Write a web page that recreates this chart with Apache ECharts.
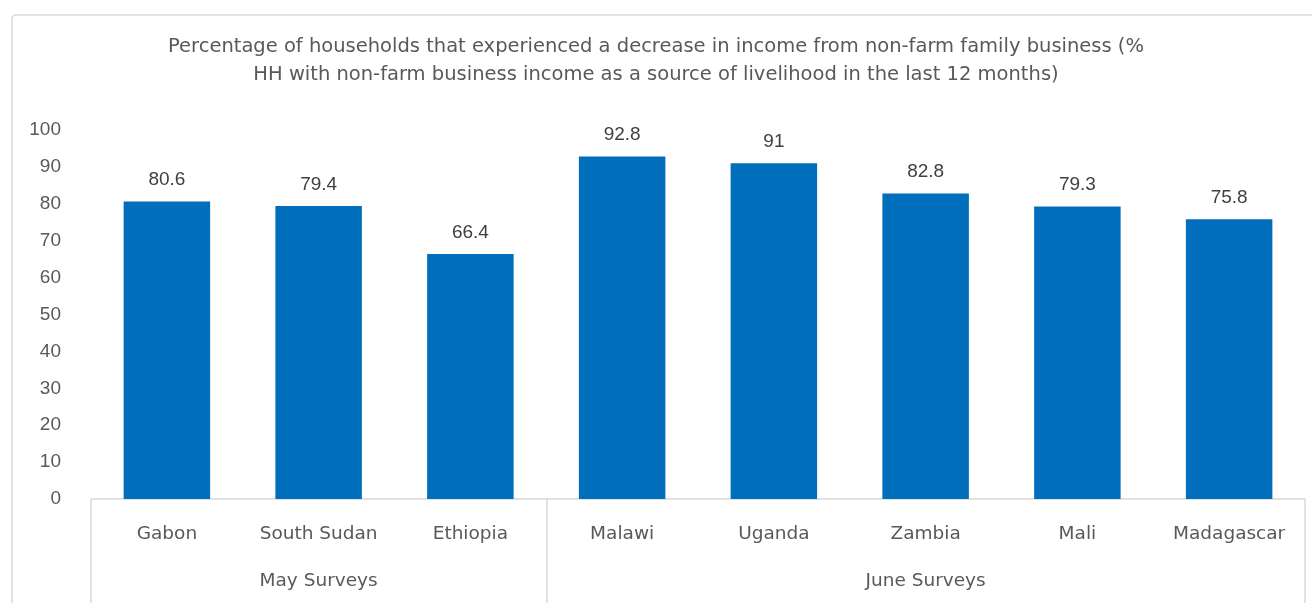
<!DOCTYPE html>
<html>
<head>
<meta charset="utf-8">
<script src="https://cdn.jsdelivr.net/npm/echarts@6/dist/echarts.min.js"></script>
<style>
  html, body { margin: 0; padding: 0; background: #fff; }
  #chart { width: 1312px; height: 603px; }
</style>
</head>
<body>
<div id="chart"></div>
<script>
var countries = ['Gabon', 'South Sudan', 'Ethiopia', 'Malawi', 'Uganda', 'Zambia', 'Mali', 'Madagascar']
var values = [80.6, 79.4, 66.4, 92.8, 91, 82.8, 79.3, 75.8]
var groupLabels = ['', 'May Surveys', '', '', '', 'June Surveys', '', '']
var groupStarts = [0, 3]

var textColor = '#595959'
var wideFont = 'DejaVu Sans'
var numFont = 'Liberation Sans'

var myChart = echarts.init(document.getElementById('chart'))

myChart.setOption({
  animation: false,
  title: {
    text: 'Percentage of households that experienced a decrease in income from non-farm family business (%\nHH with non-farm business income as a source of livelihood in the last 12 months)',
    left: 'center',
    top: 28,
    textStyle: {
      color: textColor,
      fontFamily: wideFont,
      fontSize: 19.5,
      fontWeight: 'normal',
      lineHeight: 28
    }
  },
  graphic: [
    {
      type: 'rect',
      shape: { x: 12, y: 15, width: 1320, height: 620, r: 4 },
      style: { fill: 'none', stroke: '#d9d9d9', lineWidth: 1.5 },
      silent: true
    }
  ],
  grid: {
    left: 91,
    right: 7,
    top: 130,
    bottom: 104
  },
  xAxis: [
    {
      type: 'category',
      data: countries,
      axisLine: { lineStyle: { color: '#d9d9d9', width: 1.5 } },
      axisTick: {
        show: true,
        length: 110,
        interval: function(index) {
          return groupStarts.indexOf(index) !== -1
        },
        lineStyle: { color: '#d9d9d9', width: 1.5 }
      },
      axisLabel: {
        interval: 0,
        margin: 26,
        color: textColor,
        fontFamily: wideFont,
        fontSize: 18.5
      }
    },
    {
      type: 'category',
      position: 'bottom',
      offset: 47,
      data: groupLabels,
      axisLine: { show: false },
      axisTick: { show: false },
      axisLabel: {
        interval: 0,
        margin: 26,
        color: textColor,
        fontFamily: wideFont,
        fontSize: 18.5
      }
    }
  ],
  yAxis: {
    type: 'value',
    min: 0,
    max: 100,
    interval: 10,
    axisLine: { show: false },
    axisTick: { show: false },
    splitLine: { show: false },
    axisLabel: {
      margin: 30,
      color: textColor,
      fontFamily: numFont,
      fontSize: 19
    }
  },
  series: [
    {
      type: 'bar',
      data: values,
      barWidth: '57%',
      itemStyle: { color: '#006EBA' },
      label: {
        show: true,
        position: 'top',
        distance: 12,
        color: '#404040',
        fontFamily: numFont,
        fontSize: 19
      }
    }
  ]
})
</script>
</body>
</html>
